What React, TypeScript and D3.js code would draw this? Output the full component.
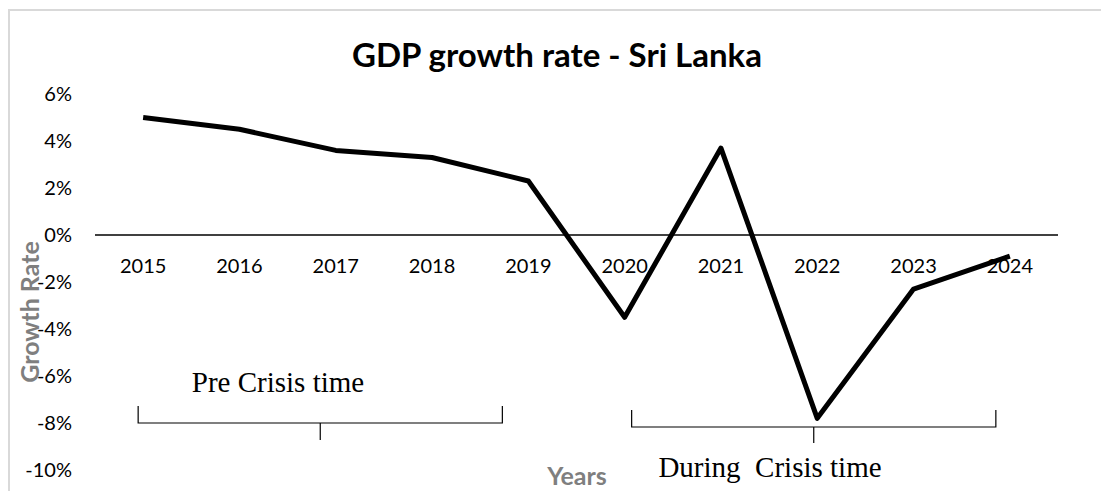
import React, { useEffect, useRef } from "react";
import * as d3 from "d3";

const years = ["2015", "2016", "2017", "2018", "2019", "2020", "2021", "2022", "2023", "2024"];
const growth = [5.0, 4.5, 3.6, 3.3, 2.3, -3.5, 3.7, -7.8, -2.3, -0.9];
const yTicks = [6, 4, 2, 0, -2, -4, -6, -8, -10];
const title = "GDP growth rate - Sri Lanka";
const preLabel = "Pre Crisis time";
const duringLabel = "During  Crisis time";
const preRange = ["2015", "2019"];
const duringRange = ["2020", "2024"];

const W = 1101;
const H = 491;

export default function App() {
  const ref = useRef<SVGSVGElement | null>(null);

  useEffect(() => {
    const svg = d3.select(ref.current);
    svg.selectAll("*").remove();

    const x = d3.scaleBand<string>().domain(years).range([95, 1058]);
    const y = d3.scaleLinear().domain([-10, 6]).range([470, 94]);
    const cx = (d: string) => (x(d) as number) + x.bandwidth() / 2;
    const sans = "Lato, 'Open Sans', sans-serif";
    const serif = "'Liberation Serif', 'Times New Roman', serif";

    // chart border
    svg.append("rect")
      .attr("x", 9).attr("y", 10).attr("width", W + 20).attr("height", H + 20)
      .attr("fill", "#fff").attr("stroke", "#d9d9d9").attr("stroke-width", 2);

    // title
    svg.append("text")
      .attr("x", 557).attr("y", 67)
      .attr("text-anchor", "middle")
      .attr("font-family", sans)
      .attr("font-weight", "bold").attr("font-size", 33)
      .attr("fill", "#000").text(title);

    // y tick labels
    svg.append("g").selectAll("text").data(yTicks).join("text")
      .attr("x", 72).attr("y", (d) => y(d))
      .attr("dy", "0.36em")
      .attr("text-anchor", "end")
      .attr("font-family", sans)
      .attr("font-size", 20).attr("fill", "#000")
      .text((d) => `${d}%`);

    // zero line
    svg.append("line")
      .attr("x1", 95).attr("x2", 1058)
      .attr("y1", y(0)).attr("y2", y(0))
      .attr("stroke", "#000").attr("stroke-width", 1.5);

    // x category labels
    svg.append("g").selectAll("text").data(years).join("text")
      .attr("x", (d) => cx(d)).attr("y", 273)
      .attr("text-anchor", "middle")
      .attr("font-family", sans)
      .attr("font-size", 20).attr("fill", "#000")
      .text((d) => d);

    // axis titles
    svg.append("text")
      .attr("transform", `translate(39,312) rotate(-90)`)
      .attr("text-anchor", "middle")
      .attr("font-family", sans)
      .attr("font-weight", "bold").attr("font-size", 25)
      .attr("fill", "#7f7f7f").text("Growth Rate");

    svg.append("text")
      .attr("x", 577).attr("y", 485)
      .attr("text-anchor", "middle")
      .attr("font-family", sans)
      .attr("font-weight", "bold").attr("font-size", 25)
      .attr("fill", "#7f7f7f").text("Years");

    // line
    const line = d3.line<number>()
      .x((_, i) => cx(years[i]))
      .y((d) => y(d));
    svg.append("path")
      .datum(growth)
      .attr("d", line)
      .attr("fill", "none")
      .attr("stroke", "#000")
      .attr("stroke-width", 5)
      .attr("stroke-linejoin", "round");

    // brackets
    const bracket = (x1: number, x2: number, yTop: number, yBase: number, tickLen: number) => {
      const g = svg.append("g").attr("stroke", "#000").attr("stroke-width", 1.2).attr("fill", "none");
      g.append("path").attr("d", `M${x1},${yTop}V${yBase}H${x2}V${yTop}`);
      const mid = (x1 + x2) / 2;
      g.append("line").attr("x1", mid).attr("x2", mid).attr("y1", yBase).attr("y2", yBase + tickLen);
    };
    bracket(cx(preRange[0]) - 5, cx(preRange[1]) - 26, 406, 423, 17);
    bracket(cx(duringRange[0]) + 7, cx(duringRange[1]) - 14, 410, 427, 16);

    svg.append("text")
      .attr("x", 278).attr("y", 392)
      .attr("text-anchor", "middle")
      .attr("font-family", serif)
      .attr("font-size", 29).attr("fill", "#000")
      .text(preLabel);

    svg.append("text")
      .attr("x", 770).attr("y", 477)
      .attr("text-anchor", "middle")
      .attr("font-family", serif)
      .attr("font-size", 29).attr("fill", "#000")
      .style("white-space", "pre")
      .text(duringLabel);
  }, []);

  return (
    <div style={{ position: "absolute", left: 0, top: 0 }}>
      <svg ref={ref} width={W} height={H} style={{ display: "block" }} />
    </div>
  );
}
